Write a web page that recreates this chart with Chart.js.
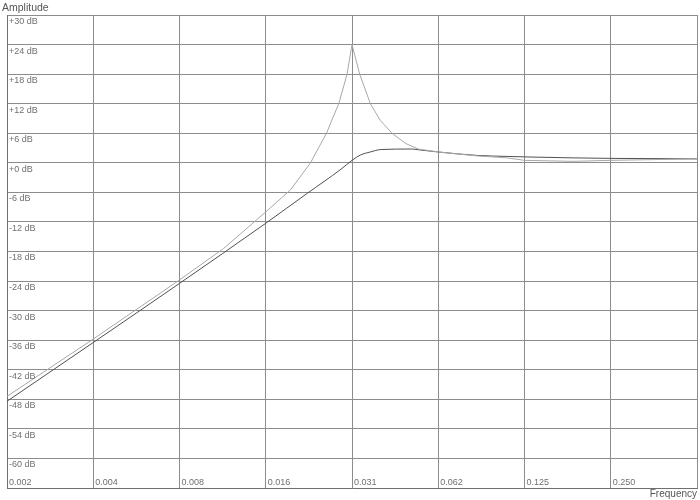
<!DOCTYPE html>
<html>
<head>
<meta charset="utf-8">
<script src="https://cdn.jsdelivr.net/npm/chart.js@4/dist/chart.umd.min.js"></script>
<style>
  html, body { margin: 0; padding: 0; background: #fff; }
  #wrap { width: 700px; height: 500px; position: relative; }
</style>
</head>
<body>
<div id="wrap"><canvas id="filterChart"></canvas></div>
<script>
// frequency ticks (log2 spaced) and their printed labels
const freqTicks = [0.001953125, 0.00390625, 0.0078125, 0.015625, 0.03125, 0.0625, 0.125, 0.25, 0.5];
const freqLabels = ['0.002', '0.004', '0.008', '0.016', '0.031', '0.062', '0.125', '0.250', ''];
const dbTicks = [30, 24, 18, 12, 6, 0, -6, -12, -18, -24, -30, -36, -42, -48, -54, -60];

// resonant curve (light)
const freqA = [0.001953, 0.0039, 0.0078, 0.01113, 0.0156, 0.01906, 0.02239, 0.02545, 0.02809, 0.03004,
  0.03125, 0.03324, 0.03622, 0.03924, 0.0431, 0.0482, 0.05324, 0.0625, 0.0854, 0.1087, 0.125, 0.1846, 0.25, 0.5];
const dbA = [-47.4, -35.8, -23.8, -17.4, -10.0, -5.5, 0.0, 6.0, 12.0, 18.0,
  24.0, 18.0, 12.0, 8.6, 6.0, 3.9, 2.8, 2.2, 1.4, 1.0, 0.5, 0.3, 0.5, 0.8];

// flat curve (dark)
const freqB = [0.001953, 0.0039, 0.0078, 0.0156, 0.0218, 0.0286, 0.03125, 0.0335, 0.0362, 0.0395,
  0.0505, 0.0541, 0.0625, 0.0854, 0.1087, 0.125, 0.1846, 0.25, 0.5];
const dbB = [-48.4, -36.5, -24.5, -12.3, -6.2, -1.3, 0.5, 1.6, 2.2, 2.7,
  2.8, 2.6, 2.2, 1.5, 1.3, 1.2, 1.0, 0.9, 0.8];

const labelPlugin = {
  id: 'labels',
  afterDraw(chart) {
    const ctx = chart.ctx;
    const x = chart.scales.x;
    const y = chart.scales.y;
    const area = chart.chartArea;
    ctx.save();
    ctx.fillStyle = '#707070';
    ctx.font = '9px "Liberation Sans", Arial, sans-serif';
    ctx.textAlign = 'left';
    ctx.textBaseline = 'top';
    dbTicks.forEach(v => {
      const txt = (v >= 0 ? '+' : '') + v + ' dB';
      ctx.fillText(txt, area.left + 2, y.getPixelForValue(v) + 2);
    });
    ctx.textBaseline = 'bottom';
    freqTicks.forEach((f, i) => {
      if (freqLabels[i]) ctx.fillText(freqLabels[i], x.getPixelForValue(f) + 2, area.bottom - 1);
    });
    ctx.fillStyle = '#555';
    ctx.font = '10.5px "Liberation Sans", Arial, sans-serif';
    ctx.textBaseline = 'middle';
    ctx.fillText('Amplitude', 2, 8);
    ctx.font = '10px "Liberation Sans", Arial, sans-serif';
    ctx.textAlign = 'right';
    ctx.fillText('Frequency', 697, 494);
    ctx.restore();
  }
};

new Chart(document.getElementById('filterChart').getContext('2d'), {
  type: 'line',
  data: {
    datasets: [
      {
        label: 'Resonant',
        data: freqA.map((f, i) => ({ x: f, y: dbA[i] })),
        borderColor: '#a8a8a8',
        borderWidth: 1,
        pointRadius: 0,
        tension: 0
      },
      {
        label: 'Flat',
        data: freqB.map((f, i) => ({ x: f, y: dbB[i] })),
        borderColor: '#505050',
        borderWidth: 1,
        pointRadius: 0,
        cubicInterpolationMode: 'monotone'
      }
    ]
  },
  options: {
    responsive: true,
    maintainAspectRatio: false,
    animation: false,
    layout: { padding: { left: 7, top: 15, right: 3, bottom: 12 } },
    plugins: {
      legend: { display: false },
      tooltip: { enabled: false }
    },
    scales: {
      x: {
        type: 'logarithmic',
        min: freqTicks[0],
        max: freqTicks[freqTicks.length - 1],
        afterBuildTicks: scale => { scale.ticks = freqTicks.map(v => ({ value: v })); },
        ticks: { display: false },
        grid: { color: '#8c8c8c', lineWidth: 1, drawTicks: false },
        border: { color: '#707070', width: 1 }
      },
      y: {
        min: -66,
        max: 30,
        ticks: { display: false, stepSize: 6 },
        grid: { color: '#8c8c8c', lineWidth: 1, drawTicks: false },
        border: { color: '#707070', width: 1 }
      }
    }
  },
  plugins: [labelPlugin]
});
</script>
</body>
</html>
